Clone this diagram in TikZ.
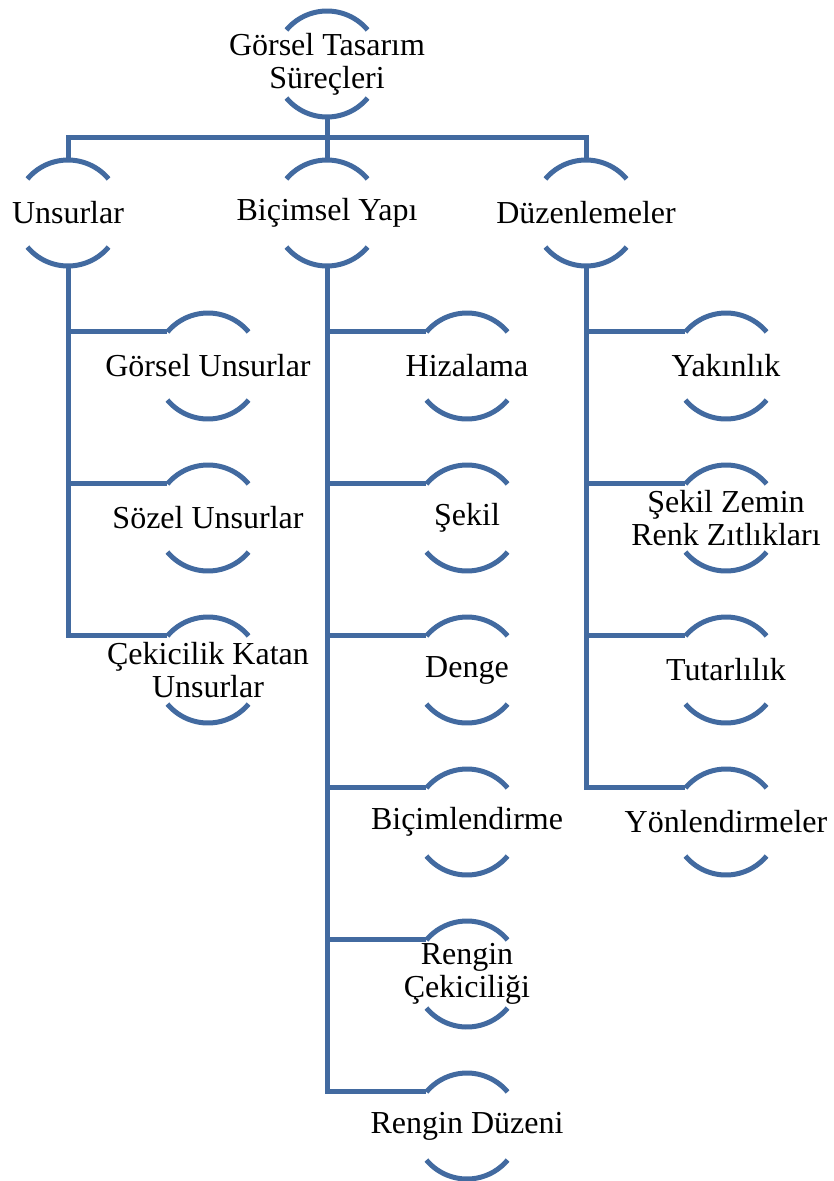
\documentclass[tikz,border=0pt]{standalone}
\usepackage{fontspec}
\setmainfont{Liberation Serif}
\usetikzlibrary{positioning}
\definecolor{arcblue}{RGB}{66,106,160}
\tikzstyle{ring} = [circle, minimum size=106pt, inner sep=0pt, outer sep=0pt]
\tikzstyle{lbl} = [align=center, inner sep=0pt, font=\fontsize{32}{33}\selectfont]
\tikzstyle{arcline} = [draw=arcblue, line width=5pt]
\tikzstyle{link} = [draw=arcblue, line width=5pt]

\begin{document}
\begin{tikzpicture}[on grid]
    \useasboundingbox (0,0) rectangle (834pt,-1181pt);
    % ust dugum ve ana dallar
    \node (top) [ring, label={[lbl]center:Görsel Tasarım\\Süreçleri}] at (327pt,-64pt) {};
    \node (bicim) [ring, below=149pt of top, label={[lbl]center:Biçimsel Yapı}] {};
    \node (uns) [ring, left=259pt of bicim, label={[lbl]center:Unsurlar}] {};
    \node (duz) [ring, right=259pt of bicim, label={[lbl]center:Düzenlemeler}] {};
    \coordinate (bus) at ([yshift=-20pt]top.south);

    % Unsurlar alt dallari
    \node (gu) [ring, below right=153pt and 140pt of uns, label={[lbl]center:Görsel Unsurlar}] {};
    \node (su) [ring, below=152pt of gu, label={[lbl]center:Sözel Unsurlar}] {};
    \node (cku) [ring, below=152pt of su, label={[lbl]center:Çekicilik Katan\\Unsurlar}] {};

    % Biçimsel Yapı alt dallari
    \node (hiz) [ring, below right=153pt and 140pt of bicim, label={[lbl]center:Hizalama}] {};
    \node (sek) [ring, below=152pt of hiz, label={[lbl]center:Şekil}] {};
    \node (den) [ring, below=152pt of sek, label={[lbl]center:Denge}] {};
    \node (bcl) [ring, below=152pt of den, label={[lbl]center:Biçimlendirme}] {};
    \node (rc) [ring, below=152pt of bcl, label={[lbl]center:Rengin\\Çekiciliği}] {};
    \node (rd) [ring, below=152pt of rc, label={[lbl]center:Rengin Düzeni}] {};

    % Düzenlemeler alt dallari
    \node (yak) [ring, below right=153pt and 140pt of duz, label={[lbl]center:Yakınlık}] {};
    \node (szr) [ring, below=152pt of yak, label={[lbl]center:Şekil Zemin\\Renk Zıtlıkları}] {};
    \node (tut) [ring, below=152pt of szr, label={[lbl]center:Tutarlılık}] {};
    \node (yon) [ring, below=152pt of tut, label={[lbl]center:Yönlendirmeler}] {};

    % yaylar
    \foreach \n in {top,uns,bicim,duz,gu,su,cku,hiz,sek,den,bcl,rc,rd,yak,szr,tut,yon} {
        \draw [arcline] (\n.40) arc[start angle=40, end angle=140, radius=53pt];
        \draw [arcline] (\n.220) arc[start angle=220, end angle=320, radius=53pt];
    }

    % baglantilar
    \draw [link] (top.south) -- (bicim.north);
    \draw [link] (uns.north) |- (bus) -| (duz.north);
    \foreach \c in {gu,su,cku} \draw [link] (uns.south) |- (\c.140);
    \foreach \c in {hiz,sek,den,bcl,rc,rd} \draw [link] (bicim.south) |- (\c.140);
    \foreach \c in {yak,szr,tut,yon} \draw [link] (duz.south) |- (\c.140);
\end{tikzpicture}
\end{document}
